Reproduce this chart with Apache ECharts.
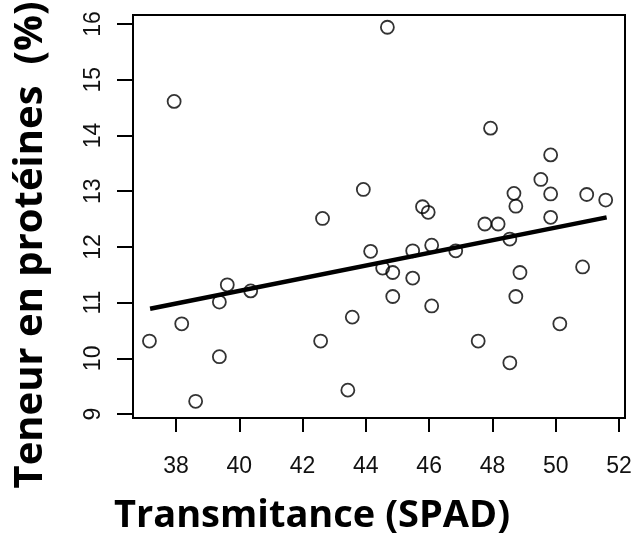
<!DOCTYPE html>
<html>
<head>
<meta charset="utf-8">
<script src="https://cdn.jsdelivr.net/npm/echarts@6/dist/echarts.min.js"></script>
<style>
  html, body { margin: 0; padding: 0; background: #fff; }
  #chart { width: 635px; height: 555px; }
</style>
</head>
<body>
<div id="chart"></div>
<script>
// SPAD transmittance readings and protein content (%) per sample
const spad = [
  37.16, 37.94, 38.18, 38.62, 39.37, 39.37, 39.62, 40.36, 42.57, 42.63,
  43.43, 43.57, 43.92, 44.15, 44.53, 44.68, 44.85, 44.85, 45.48, 45.48,
  45.79, 45.97, 46.08, 46.08, 46.84, 47.55, 47.76, 47.94, 48.18, 48.55,
  48.55, 48.68, 48.74, 48.74, 48.87, 49.53, 49.84, 49.84, 49.84, 50.13,
  50.85, 50.98, 51.58
];
const protein = [
  10.31, 14.61, 10.62, 9.23, 11.01, 10.03, 11.32, 11.21, 10.31, 12.51,
  9.43, 10.74, 13.03, 11.92, 11.62, 15.94, 11.54, 11.11, 11.93, 11.44,
  12.72, 12.62, 12.03, 10.94, 11.93, 10.31, 12.41, 14.13, 12.41, 12.14,
  9.92, 12.96, 12.73, 11.11, 11.54, 13.21, 13.65, 12.95, 12.53, 10.62,
  11.64, 12.94, 12.84
];

// fitted regression line, endpoints
const fitX = [37.18, 51.61];
const fitY = [10.89, 12.53];

// tick labels
const xTicks = [38, 40, 42, 44, 46, 48, 50, 52];
const yTicks = [9, 10, 11, 12, 13, 14, 15, 16];

const xTitle = 'Transmitance (SPAD)';
const yTitle = 'Teneur en protéines  (%)';

const points = spad.map((v, i) => [v, protein[i]]);
const fitLine = fitX.map((v, i) => [v, fitY[i]]);

const chart = echarts.init(document.getElementById('chart'), null, { renderer: 'canvas' });

const tickFont = { fontFamily: 'Liberation Sans, Arial, sans-serif', fontSize: 23, color: '#111' };
const titleFont = '"Open Sans", Lato, sans-serif';

chart.setOption({
  animation: false,
  backgroundColor: '#fff',
  grid: {
    left: 133, top: 15, width: 492, height: 403,
    show: true, borderColor: '#000', borderWidth: 2, backgroundColor: 'transparent'
  },
  xAxis: {
    type: 'value', min: 36.64, max: 52.19,
    axisLine: { show: false },
    splitLine: { show: false },
    axisTick: { show: true, customValues: xTicks, length: 14, inside: false,
                lineStyle: { color: '#000', width: 2 } },
    axisLabel: Object.assign({ customValues: xTicks, margin: 37 }, tickFont)
  },
  yAxis: {
    type: 'value', min: 8.93, max: 16.16,
    axisLine: { show: false },
    splitLine: { show: false },
    axisTick: { show: true, customValues: yTicks, length: 16, inside: false,
                lineStyle: { color: '#000', width: 2 } },
    axisLabel: Object.assign({ customValues: yTicks, rotate: 90, margin: 28 }, tickFont)
  },
  series: [
    {
      type: 'scatter',
      data: points,
      symbol: 'circle',
      symbolSize: 13,
      itemStyle: { color: 'rgba(255,255,255,0)', borderColor: '#000', borderWidth: 1.8 },
      z: 2
    },
    {
      type: 'line',
      data: fitLine,
      symbol: 'none',
      lineStyle: { color: '#000', width: 4.5 },
      z: 3
    }
  ],
  graphic: [
    {
      type: 'text',
      x: 312, y: 516,
      style: {
        text: xTitle,
        font: 'bold 38px ' + titleFont,
        fill: '#000',
        align: 'center',
        verticalAlign: 'middle'
      }
    },
    {
      type: 'text',
      x: 31, y: 245,
      rotation: Math.PI / 2,
      style: {
        text: yTitle,
        font: 'bold 40px ' + titleFont,
        fill: '#000',
        align: 'center',
        verticalAlign: 'middle'
      }
    }
  ]
});
</script>
</body>
</html>
